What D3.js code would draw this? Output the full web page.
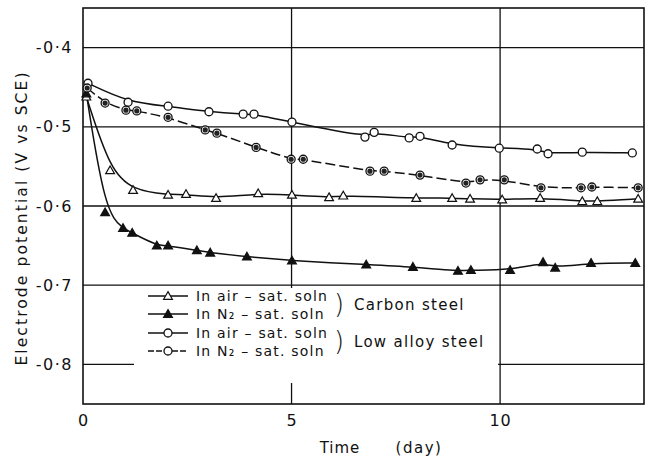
<!DOCTYPE html>
<html><head><meta charset="utf-8">
<script src="https://cdn.jsdelivr.net/npm/d3@7"></script>
<style>body{margin:0;background:#fff}text{font-family:"DejaVu Sans",sans-serif;fill:#111}</style>
</head><body>
<svg id="c" width="651" height="461"></svg>
<script>
// ---- data ----
const xTicks = [0, 5, 10];
const xTickLabels = ["0", "5", "10"];
const yTicks = [-0.4, -0.5, -0.6, -0.7, -0.8];
const yTickLabels = ["-0·4", "-0·5", "-0·6", "-0·7", "-0·8"];

// Carbon steel, air-saturated (open triangles)
const csAirT = [0.08, 0.65, 1.2, 2.04, 2.47, 3.19, 4.2, 5.01, 5.9, 6.24, 7.99, 8.85, 9.28, 10.05, 10.96, 11.97, 12.33, 13.31];
const csAirV = [-0.462, -0.555, -0.58, -0.586, -0.585, -0.59, -0.584, -0.586, -0.589, -0.587, -0.59, -0.59, -0.591, -0.592, -0.59, -0.594, -0.594, -0.591];
// Carbon steel, N2-saturated (filled triangles)
const csN2T = [0.08, 0.53, 0.96, 1.18, 1.77, 2.04, 2.73, 3.05, 3.93, 5.01, 6.79, 7.91, 8.99, 9.3, 10.24, 11.03, 11.32, 12.18, 13.24];
const csN2V = [-0.458, -0.608, -0.628, -0.634, -0.65, -0.65, -0.656, -0.659, -0.664, -0.669, -0.674, -0.677, -0.682, -0.681, -0.681, -0.671, -0.678, -0.672, -0.672];
// Low alloy steel, air-saturated (open circles)
const laAirT = [0.12, 1.08, 2.04, 3.02, 3.84, 4.1, 5.01, 6.76, 6.98, 7.82, 8.08, 8.85, 9.98, 10.89, 11.15, 11.97, 13.17];
const laAirV = [-0.445, -0.469, -0.474, -0.481, -0.484, -0.484, -0.494, -0.513, -0.507, -0.514, -0.512, -0.523, -0.527, -0.528, -0.534, -0.532, -0.533];
// Low alloy steel, N2-saturated (dotted circles)
const laN2T = [0.1, 0.53, 1.03, 1.29, 2.04, 2.93, 3.21, 4.15, 4.99, 5.28, 6.88, 7.22, 8.08, 9.18, 9.52, 10.1, 10.98, 11.94, 12.2, 13.31];
const laN2V = [-0.451, -0.47, -0.479, -0.48, -0.488, -0.504, -0.508, -0.526, -0.541, -0.541, -0.556, -0.556, -0.561, -0.571, -0.567, -0.567, -0.577, -0.577, -0.576, -0.577];

const legendLabels = ["In air – sat. soln", "In N₂ – sat. soln", "In air – sat. soln", "In N₂ – sat. soln"];
const groupLabels = ["Carbon steel", "Low alloy steel"];

// ---- layout ----
const L = 83, R = 644, T = 8, B = 404;
const svg = d3.select("#c");
const x = d3.scaleLinear().domain([0, 13.45]).range([L, R]);
const y = d3.scaleLinear().domain([-0.85, -0.35]).range([B, T]);

// grid
const g = svg.append("g");
g.selectAll(".hg").data(yTicks).join("line")
  .attr("x1", L).attr("x2", R).attr("y1", d => y(d)).attr("y2", d => y(d))
  .attr("stroke", "#111").attr("stroke-width", 1.3);
g.selectAll(".vg").data(xTicks.filter(d => d > 0)).join("line")
  .attr("x1", d => x(d)).attr("x2", d => x(d)).attr("y1", T).attr("y2", B)
  .attr("stroke", "#111").attr("stroke-width", 1.3);

// legend background (covers grid)
svg.append("rect").attr("x", 134).attr("y", 288).attr("width", 364).attr("height", 95).attr("fill", "#fff");

// frame
svg.append("rect").attr("x", L).attr("y", T).attr("width", R - L).attr("height", B - T)
  .attr("fill", "none").attr("stroke", "#111").attr("stroke-width", 1.6);

// axes labels via d3 axes (no domain/ticks lines)
const yAxis = d3.axisLeft(y).tickValues(yTicks).tickFormat((d, i) => yTickLabels[i]).tickSize(0).tickPadding(10);
const ya = svg.append("g").attr("transform", `translate(${L},0)`).call(yAxis);
ya.select(".domain").remove();
ya.selectAll("text").attr("font-size", 16).attr("letter-spacing", 1.5).attr("font-family", "DejaVu Sans").attr("fill", "#111");

const xAxis = d3.axisBottom(x).tickValues(xTicks).tickFormat((d, i) => xTickLabels[i]).tickSize(0).tickPadding(11);
const xa = svg.append("g").attr("transform", `translate(0,${B})`).call(xAxis);
xa.select(".domain").remove();
xa.selectAll("text").attr("font-size", 16).attr("letter-spacing", 1).attr("font-family", "DejaVu Sans").attr("fill", "#111");

svg.append("text").attr("transform", "translate(27,218) rotate(-90)").attr("text-anchor", "middle")
  .attr("font-size", 15.5).attr("letter-spacing", 2.1).text("Electrode potential  (V vs SCE)");
svg.append("text").attr("x", 340).attr("y", 453).attr("text-anchor", "middle").attr("font-size", 15).attr("letter-spacing", 1).text("Time");
svg.append("text").attr("x", 419).attr("y", 453).attr("text-anchor", "middle").attr("font-size", 15).attr("letter-spacing", 1.5).text("(day)");

// series
const series = [
  {t: csAirT, v: csAirV, m: "triOpen", dash: null},
  {t: csN2T, v: csN2V, m: "triFill", dash: null},
  {t: laAirT, v: laAirV, m: "circOpen", dash: null},
  {t: laN2T, v: laN2V, m: "circDot", dash: "10,4"}
];
const line = d3.line().x(d => x(d[0])).y(d => y(d[1])).curve(d3.curveBasis);

function drawMarker(sel, type, cx, cy) {
  if (type.startsWith("tri")) {
    const s = 4.4;
    sel.append("path").attr("d", `M${cx},${cy - s}L${cx + s},${cy + s * 0.75}L${cx - s},${cy + s * 0.75}Z`)
      .attr("fill", type === "triFill" ? "#111" : "#fff").attr("stroke", "#111").attr("stroke-width", 1.2);
  } else {
    sel.append("circle").attr("cx", cx).attr("cy", cy).attr("r", 4)
      .attr("fill", type === "circDot" ? "#fff" : "#fff").attr("stroke", "#111").attr("stroke-width", 1.3);
    if (type === "circDot") {
      sel.append("circle").attr("cx", cx).attr("cy", cy).attr("r", 2.6).attr("fill", "#222");
    }
  }
}

series.forEach(s => {
  const pts = s.t.map((t, i) => [t, s.v[i]]);
  svg.append("path").datum(pts).attr("d", line).attr("fill", "none").attr("stroke", "#111")
    .attr("stroke-width", 1.5).attr("stroke-dasharray", s.dash);
});
series.forEach(s => {
  const gm = svg.append("g");
  s.t.forEach((t, i) => drawMarker(gm, s.m, x(t), y(s.v[i])));
});

// legend
const legY = [296, 314, 333, 351];
const legMarkers = ["triOpen", "triFill", "circOpen", "circDot"];
const lg = svg.append("g");
legY.forEach((yy, i) => {
  lg.append("line").attr("x1", 148).attr("x2", 188).attr("y1", yy).attr("y2", yy)
    .attr("stroke", "#111").attr("stroke-width", 1.6).attr("stroke-dasharray", i === 3 ? "6,2" : null);
  drawMarker(lg, i === 3 ? "circOpen" : legMarkers[i], 168, yy);
  lg.append("text").attr("x", 196).attr("y", yy + 5).attr("font-size", 14).attr("letter-spacing", 1.2).text(legendLabels[i]);
});
[[305, 0], [342, 1]].forEach(([yy, k]) => {
  lg.append("text").attr("x", 334).attr("y", yy + 8).attr("font-size", 26).attr("font-weight", 200).text(")");
  lg.append("text").attr("x", 354).attr("y", yy + 5).attr("font-size", 15).attr("letter-spacing", 1.3).text(groupLabels[k]);
});
</script>
</body></html>
